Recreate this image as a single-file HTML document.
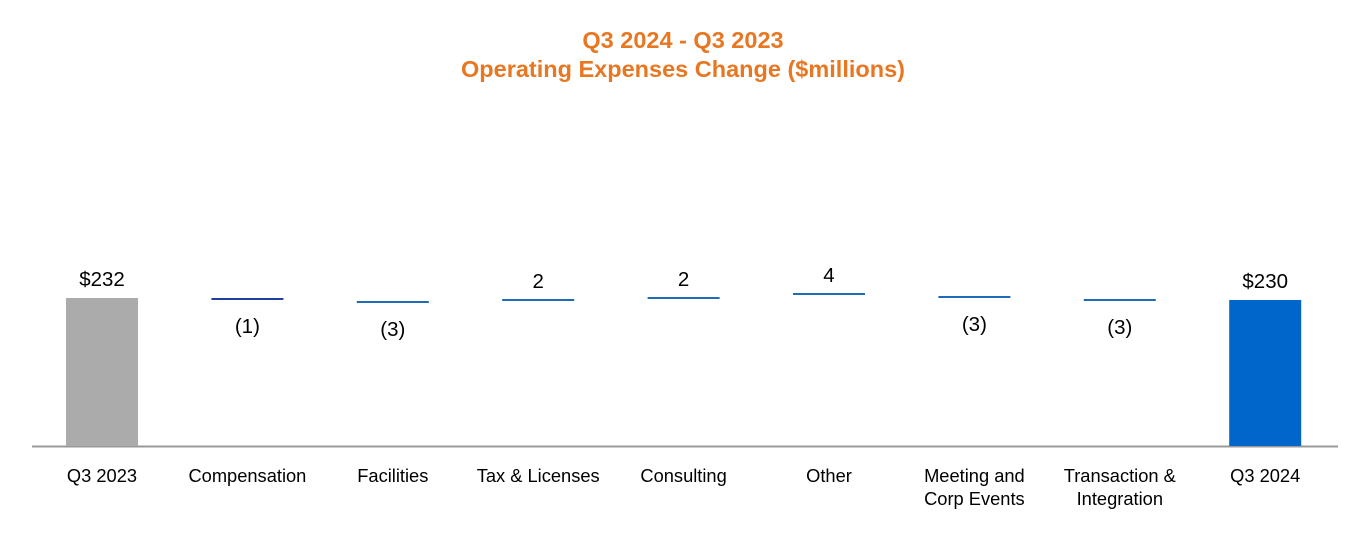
<!DOCTYPE html>
<html><head><meta charset="utf-8"><style>
body{margin:0;background:#fff;}
svg{display:block;font-family:"Liberation Sans",Arial,sans-serif;}
</style></head><body>
<svg width="1368" height="536" viewBox="0 0 1368 536">
<text x="683" y="48" text-anchor="middle" font-size="23.5" font-weight="bold" fill="#E87722">Q3 2024 - Q3 2023</text>
<text x="683" y="77" text-anchor="middle" font-size="23.5" font-weight="bold" fill="#E87722">Operating Expenses Change ($millions)</text>
<line x1="32" y1="446.5" x2="1338" y2="446.5" stroke="#999" stroke-width="2"/>
<g id="marks"></g>
</svg>
<script>
const categories=[["Q3 2023"],["Compensation"],["Facilities"],["Tax & Licenses"],["Consulting"],["Other"],["Meeting and","Corp Events"],["Transaction &","Integration"],["Q3 2024"]];
const values=[232,-1,-3,2,2,4,-3,-3,230];
const kinds=["total","delta","delta","delta","delta","delta","delta","delta","total"];
const valueLabels=["$232","(1)","(3)","2","2","4","(3)","(3)","$230"];
const NS="http://www.w3.org/2000/svg";
const g=document.getElementById('marks');
function xC(i){return 102+i*145.4;}
function yV(v){return 446-(v-84)*1;}
function mk(t,a){const e=document.createElementNS(NS,t);for(const k in a)e.setAttribute(k,a[k]);g.appendChild(e);return e;}
let run=0;
values.forEach((v,i)=>{
  const cx=xC(i);let top,bot,lblY;
  if(kinds[i]==="total"){
    run=v;top=yV(v);bot=446;
    const r=mk('rect',{x:cx-36,y:top,width:72,height:bot-top,fill:i===0?'#ABABAB':'#0066CC'});
    
    
    lblY=top-12;
  }else{
    const s=run,e2=run+v;run=e2;
    const yEnd=yV(e2);
    const r=mk('rect',{x:cx-36,y:yEnd-1,width:72,height:2,fill:i===1?'#1F3F9A':'#1F6BB5'});
    
    
    lblY=v>=0?yEnd-12:yEnd+34;
  }
  const t=mk('text',{x:cx,y:lblY,'text-anchor':'middle','font-size':'20.5',fill:'#000'});
  t.textContent=valueLabels[i];
  
  
  categories[i].forEach((ln,j)=>{
    const c=mk('text',{x:cx,y:482+j*23,'text-anchor':'middle','font-size':'18.3',fill:'#000'});
    c.textContent=ln;
    
    
  });
});
</script>
</body></html>
